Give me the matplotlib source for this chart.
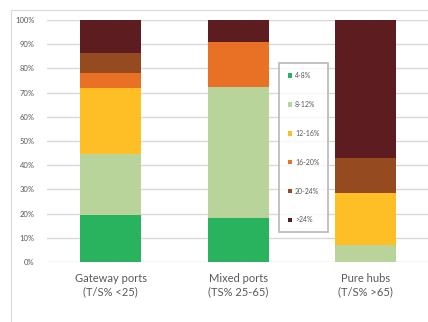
import numpy as np
import matplotlib
matplotlib.use('Agg')
import matplotlib.pyplot as plt
from matplotlib.patches import Rectangle

plt.rcParams['font.family'] = ['Lato', 'DejaVu Sans']

categories = ['Gateway ports\n(T/S% <25)', 'Mixed ports\n(TS% 25-65)', 'Pure hubs\n(T/S% >65)']
bands = ['4-8%', '8-12%', '12-16%', '16-20%', '20-24%', '>24%']
colors = ['#2ab35e', '#b8d49a', '#fdbe26', '#e87125', '#954a1f', '#5c1c20']

# share of each band per port type (%)
share_4_8 = [19.5, 18.0, 0.0]
share_8_12 = [25.0, 54.5, 7.0]
share_12_16 = [27.5, 0.0, 21.5]
share_16_20 = [6.0, 18.5, 0.0]
share_20_24 = [8.5, 0.0, 14.5]
share_24 = [13.5, 9.0, 57.0]
series = [share_4_8, share_8_12, share_12_16, share_16_20, share_20_24, share_24]

fig = plt.figure(figsize=(4.28, 3.22), dpi=100)
fig.patches.append(Rectangle((11 / 428, -0.1), 1.2, 1.1 - 10 / 322, transform=fig.transFigure,
                             fill=False, edgecolor='#d9d9d9', linewidth=0.8))
ax = fig.add_axes([47 / 428, 1 - 262 / 322, 1 - 47 / 428, (262 - 20) / 322])

x = np.arange(len(categories))
bottom = np.zeros(len(categories))
for vals, col, lab in zip(series, colors, bands):
    ax.bar(x, vals, width=0.48, bottom=bottom, color=col, label=lab, zorder=3)
    bottom += np.array(vals)

ax.set_ylim(0, 100)
ax.set_xlim(-0.5, 2.49)
ax.set_yticks(np.arange(0, 101, 10))
ax.set_yticklabels([f'{v}%' for v in range(0, 101, 10)], fontsize=5.5, color='#595959')
ax.set_xticks(x)
ax.set_xticklabels(categories, fontsize=8, color='#595959', linespacing=1.25)
ax.tick_params(axis='both', length=0)
ax.tick_params(axis='y', pad=9)
ax.tick_params(axis='x', pad=8)
ax.grid(axis='y', color='#d9d9d9', linewidth=1, zorder=0)
for s in ax.spines.values():
    s.set_visible(False)

leg = fig.legend(loc='upper left', bbox_to_anchor=(279 / 428, 1 - 63 / 322), borderaxespad=0,
                 fontsize=5, handlelength=0.6, handleheight=0.6, handletextpad=0.4,
                 labelspacing=3.15, borderpad=1.3, fancybox=False, frameon=True)
leg.get_frame().set_edgecolor('#a6a6a6')
leg.get_frame().set_linewidth(1.2)
for t in leg.get_texts():
    t.set_color('#595959')

plt.savefig('out.png', dpi=100)
plt.close('all')
